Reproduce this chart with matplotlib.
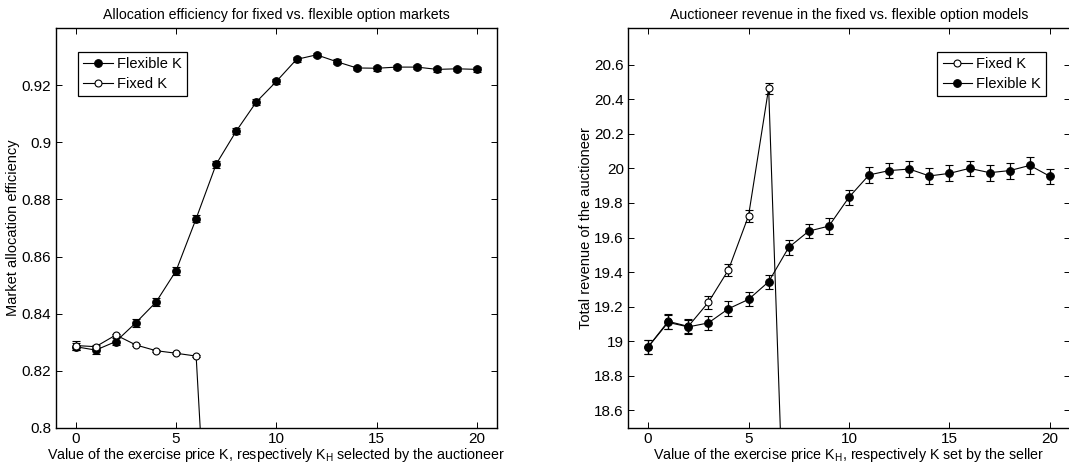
import matplotlib
matplotlib.use('Agg')
import matplotlib.pyplot as plt
from matplotlib.lines import Line2D
from matplotlib.ticker import FuncFormatter

plt.rcParams['font.family'] = ['Liberation Sans', 'DejaVu Sans']
plt.rcParams['mathtext.fontset'] = 'custom'
plt.rcParams['mathtext.rm'] = 'Liberation Sans'

# exercise price K (x values)
k_values = list(range(21))

# left panel: market allocation efficiency
eff_flexible = [0.8284, 0.8272, 0.8302, 0.8368, 0.8440, 0.8550, 0.8733,
                0.8924, 0.9040, 0.9142, 0.9214, 0.9291, 0.9307, 0.9283,
                0.9261, 0.9260, 0.9264, 0.9264, 0.9256, 0.9258, 0.9256]
eff_flexible_err = [0.0012, 0.0012, 0.0013, 0.0014, 0.0014, 0.0014, 0.0013,
                    0.0012, 0.0010, 0.0010, 0.0009, 0.0008, 0.0008, 0.0008,
                    0.0008, 0.0008, 0.0008, 0.0008, 0.0008, 0.0008, 0.0008]
k_fixed_eff = [0, 1, 2, 3, 4, 5, 6, 7]
eff_fixed = [0.8288, 0.8284, 0.8325, 0.8290, 0.8270, 0.8261, 0.8251, 0.70]
eff_fixed_err = [0.0017, 0.0006, 0.0004, 0.0003, 0.0003, 0.0003, 0.0003, 0.0003]

# right panel: auctioneer revenue
rev_flexible = [18.967, 19.109, 19.083, 19.106, 19.188, 19.242, 19.344,
                19.543, 19.637, 19.666, 19.833, 19.962, 19.987, 19.996,
                19.956, 19.971, 20.000, 19.975, 19.987, 20.017, 19.954]
rev_flexible_err = [0.040, 0.040, 0.040, 0.042, 0.042, 0.040, 0.042,
                    0.042, 0.042, 0.044, 0.044, 0.046, 0.045, 0.046,
                    0.047, 0.046, 0.045, 0.046, 0.046, 0.047, 0.045]
k_fixed_rev = [0, 1, 2, 3, 4, 5, 6, 7]
rev_fixed = [18.967, 19.115, 19.086, 19.225, 19.413, 19.726, 20.463, 17.08]
rev_fixed_err = [0.040, 0.042, 0.040, 0.036, 0.035, 0.035, 0.033, 0.035]

W, H = 1069, 471
fig = plt.figure(figsize=(W / 100, H / 100), dpi=100)


def px_axes(left, right, top, bottom):
    return fig.add_axes([left / W, 1 - bottom / H, (right - left) / W, (bottom - top) / H])


ax1 = px_axes(55.6, 497.3, 28.3, 427.7)
ax2 = px_axes(628.0, 1070.0, 28.3, 427.7)

fmt = FuncFormatter(lambda v, p: '%g' % round(v, 4))


def plot_series(ax, x, y, err, filled):
    face = 'black' if filled else 'white'
    ms = 5.5 if filled else 5.0
    ax.errorbar(x, y, yerr=err, color='black', lw=0.8, elinewidth=0.9,
                capsize=3.2, capthick=0.9, marker='o', markersize=ms,
                markerfacecolor=face, markeredgecolor='black',
                markeredgewidth=0.8)
    # legend handle without the error bar
    return Line2D([], [], color='black', lw=0.8, marker='o', markersize=ms,
                  markerfacecolor=face, markeredgecolor='black', markeredgewidth=0.8)


def add_legend(ax, handles, labels, loc, anchor):
    leg = ax.legend(handles, labels, loc=loc, fontsize=10.5, fancybox=False,
                    framealpha=1, edgecolor='black', handlelength=2.0,
                    handletextpad=0.3, borderpad=0.35, labelspacing=0.45,
                    bbox_to_anchor=anchor)
    leg.get_frame().set_linewidth(0.9)


# left panel
h_flex = plot_series(ax1, k_values, eff_flexible, eff_flexible_err, True)
h_fix = plot_series(ax1, k_fixed_eff, eff_fixed, eff_fixed_err, False)
ax1.set_xlim(-1, 21)
ax1.set_ylim(0.8, 0.94)
ax1.set_xticks([0, 5, 10, 15, 20])
ax1.set_yticks([0.8, 0.82, 0.84, 0.86, 0.88, 0.9, 0.92])
ax1.set_title('Allocation efficiency for fixed vs. flexible option markets', fontsize=10.2, pad=7)
ax1.set_xlabel(r'Value of the exercise price K, respectively K$\mathregular{_H}$ selected by the auctioneer',
               fontsize=10.3, labelpad=0)
ax1.set_ylabel('Market allocation efficiency', fontsize=10.5, labelpad=1)
add_legend(ax1, [h_flex, h_fix], ['Flexible K', 'Fixed K'], 'upper left', (0.035, 0.96))

# right panel
h_fix2 = plot_series(ax2, k_fixed_rev, rev_fixed, rev_fixed_err, False)
h_flex2 = plot_series(ax2, k_values, rev_flexible, rev_flexible_err, True)
ax2.set_xlim(-1, 21)
ax2.set_ylim(18.5, 20.81)
ax2.set_xticks([0, 5, 10, 15, 20])
ax2.set_yticks([18.6, 18.8, 19, 19.2, 19.4, 19.6, 19.8, 20, 20.2, 20.4, 20.6])
ax2.set_title('Auctioneer revenue in the fixed vs. flexible option models', fontsize=10.2, pad=7)
ax2.set_xlabel(r'Value of the exercise price K$\mathregular{_H}$, respectively K set by the seller',
               fontsize=10.3, labelpad=0)
ax2.set_ylabel('Total revenue of the auctioneer', fontsize=10.5, labelpad=1)
add_legend(ax2, [h_fix2, h_flex2], ['Fixed K', 'Flexible K'], 'upper right', (0.962, 0.96))

for ax in (ax1, ax2):
    ax.yaxis.set_major_formatter(fmt)
    ax.tick_params(direction='in', top=True, right=True, length=4, width=0.7,
                   labelsize=11, pad=3)
    for sp in ax.spines.values():
        sp.set_linewidth(1.0)

fig.savefig('out.png', dpi=100)
